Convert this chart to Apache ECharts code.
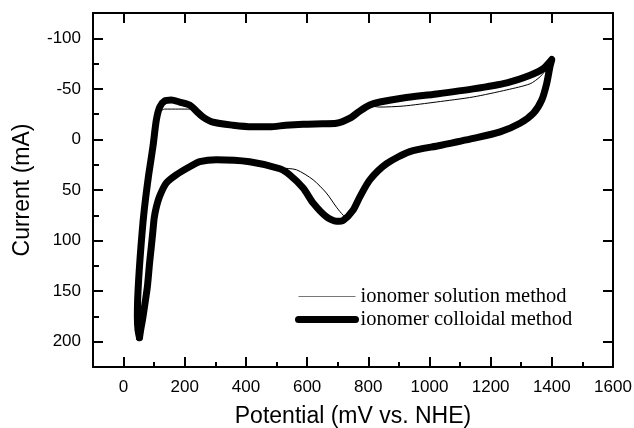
<!DOCTYPE html>
<html>
<head>
<meta charset="utf-8">
<script src="https://cdn.jsdelivr.net/npm/echarts@6/dist/echarts.min.js"></script>
<style>html,body{margin:0;padding:0;background:#fff}#c{width:634px;height:428px}</style>
</head>
<body>
<div id="c"></div>
<script>
// Potential (mV vs. NHE)
var colloidalX = [52,47,45,46,51,57,64,72,82,96,107,118,134,156,183,216,238,260,292,358,420,478,530,587,650,696,740,772,805,838,914,1023,1143,1253,1329,1372,1400,1394,1383,1367,1340,1296,1231,1143,1034,936,860,805,772,750,718,696,663,620,587,543,511,412,303,249,216,172,140,118,107,100,96,90,85,78,70,62,56,52];
// Current (mA)
var colloidalY = [196,188,175,158,130,105,80,58,35,7,-19,-32,-38,-39,-37,-34,-28,-22,-17,-14,-12.5,-12.5,-14,-15,-15.5,-16,-21,-28,-34,-37,-41,-45,-50,-56,-63.5,-70,-79,-72,-55,-39,-26,-16,-7.5,-1,6,12,24,40,57,70,80,81,76.5,63,48,35,29,22,20,22,27,35,43,56,67,78,90,108,122,145,162,178,188,196];

var solutionX = [42,44,45,46,51,57,64,72,82,96,107,118,134,180,216,238,260,292,358,420,478,530,587,650,696,740,772,805,838,914,1023,1143,1253,1329,1362,1380,1383,1367,1340,1296,1231,1143,1034,936,860,805,772,750,729,718,696,663,620,565,511,412,303,249,216,172,140,118,107,100,96,90,85,78,70,62,56,42];
var solutionY = [198,188,175,158,130,105,80,58,35,7,-19,-27,-30,-30,-30,-27,-22,-17,-14,-12.5,-12.5,-14,-15,-15.5,-16,-21,-28,-33,-32,-33,-37,-42,-49,-55,-62,-68,-55,-39,-26,-16,-7.5,-1,6,12,24,40,57,70,77,75,67,53,40,30,28,22,20,22,27,35,43,56,67,78,90,108,122,145,162,178,188,198];

var xMajor = [0,200,400,600,800,1000,1200,1400];
var xLabels = [0,200,400,600,800,1000,1200,1400,1600];
var xMinor = [100,300,500,700,900,1100,1300,1500];
var yMajor = [-100,-50,0,50,100,150,200];
var yMinor = [-75,-25,25,75,125,175];

function pairs(xs, ys){ return xs.map(function(x,i){ return [x, ys[i]]; }); }
function plain(v){ return String(v); }

var sans = "'Liberation Sans', Arial, Helvetica, sans-serif";
var serif = "'Liberation Serif', 'Times New Roman', serif";
var axisLine = {show:true, onZero:false, lineStyle:{color:'#000', width:2}};
var noLine = {show:false, onZero:false};

var chart = echarts.init(document.getElementById('c'), null, {renderer:'canvas'});
chart.setOption({
  animation:false,
  backgroundColor:'#fff',
  grid:{left:93, right:21, top:13, bottom:61, containLabel:false, outerBoundsMode:'none'},
  legend:{
    orient:'vertical', left:295, top:286, padding:0,
    itemWidth:57, itemHeight:14, itemGap:2,
    itemStyle:{opacity:0},
    textStyle:{fontFamily:serif, fontSize:20.5, lineHeight:20, color:'#000'},
    data:[
      {name:'ionomer solution method', lineStyle:{color:'#777', width:1}},
      {name:'ionomer colloidal method', lineStyle:{color:'#000', width:7, cap:'round'}}
    ]
  },
  xAxis:[
    {type:'value', position:'bottom', min:-100, max:1600,
     name:'Potential (mV vs. NHE)', nameLocation:'middle', nameGap:38,
     nameTextStyle:{fontFamily:sans, fontSize:23, color:'#000'},
     axisLine:axisLine,
     axisTick:{show:true, inside:true, length:10, customValues:xMajor, lineStyle:{color:'#000', width:2}},
     axisLabel:{show:true, customValues:xLabels, formatter:plain, margin:12, fontFamily:sans, fontSize:17, color:'#000'},
     splitLine:{show:false}},
    {type:'value', position:'bottom', min:-100, max:1600,
     axisLine:noLine,
     axisTick:{show:true, inside:true, length:5, customValues:xMinor, lineStyle:{color:'#000', width:2}},
     axisLabel:{show:false}, splitLine:{show:false}},
    {type:'value', position:'top', min:-100, max:1600,
     axisLine:axisLine,
     axisTick:{show:true, inside:true, length:10, customValues:xMajor, lineStyle:{color:'#000', width:2}},
     axisLabel:{show:false}, splitLine:{show:false}}
  ],
  yAxis:[
    {type:'value', position:'left', inverse:true, min:-125, max:225,
     name:'Current (mA)', nameLocation:'middle', nameGap:59, nameRotate:90,
     nameTextStyle:{fontFamily:sans, fontSize:23, color:'#000'},
     axisLine:axisLine,
     axisTick:{show:true, inside:true, length:10, customValues:yMajor, lineStyle:{color:'#000', width:2}},
     axisLabel:{show:true, customValues:yMajor, formatter:plain, margin:12, fontFamily:sans, fontSize:17, color:'#000'},
     splitLine:{show:false}},
    {type:'value', position:'left', inverse:true, min:-125, max:225,
     axisLine:noLine,
     axisTick:{show:true, inside:true, length:6, customValues:yMinor, lineStyle:{color:'#000', width:2}},
     axisLabel:{show:false}, splitLine:{show:false}},
    {type:'value', position:'right', inverse:true, min:-125, max:225,
     axisLine:axisLine,
     axisTick:{show:true, inside:true, length:10, customValues:yMajor, lineStyle:{color:'#000', width:2}},
     axisLabel:{show:false}, splitLine:{show:false}}
  ],
  series:[
    {name:'ionomer colloidal method', type:'line', xAxisIndex:0, yAxisIndex:0,
     data:pairs(colloidalX, colloidalY), smooth:0.25, symbol:'none', showSymbol:false,
     lineStyle:{color:'#000', width:7, cap:'round', join:'round'}, itemStyle:{color:'#000'}, z:2},
    {name:'ionomer solution method', type:'line', xAxisIndex:0, yAxisIndex:0,
     data:pairs(solutionX, solutionY), smooth:0.25, symbol:'none', showSymbol:false,
     lineStyle:{color:'#000', width:1}, itemStyle:{color:'#000'}, z:3}
  ]
});
</script>
</body>
</html>
